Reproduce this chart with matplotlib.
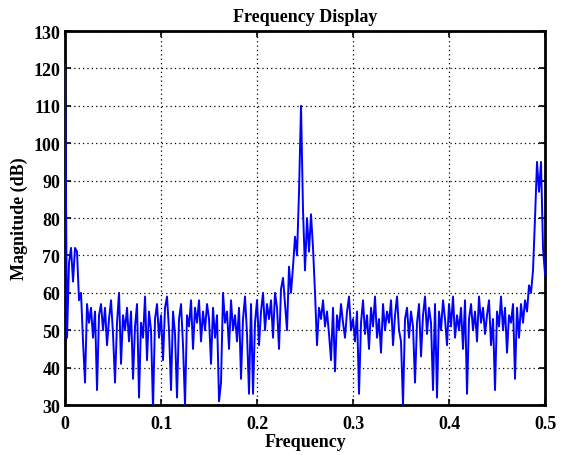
import numpy as np
import matplotlib.pyplot as plt

# magnitude in dB (one point every ~0.00208)
mag_db = [
    121, 48, 68, 72, 63, 72, 71, 58, 60, 47, 36, 57, 52, 56, 48, 55, 34, 54, 57, 50,
    56, 46, 53, 58, 49, 36, 52, 60, 41, 54, 50, 56, 47, 55, 37, 51, 57, 32, 52, 48,
    59, 42, 55, 50, 29, 53, 57, 48, 54, 42, 56, 59, 50, 34, 55, 49, 32, 53, 57, 46,
    30, 54, 51, 58, 45, 56, 52, 58, 47, 55, 50, 57, 53, 41, 56, 48, 54, 31, 36, 60,
    52, 55, 45, 58, 50, 54, 47, 56, 37, 53, 59, 49, 33, 57, 33, 52, 58, 46, 55, 60,
    50, 57, 53, 58, 48, 60, 56, 45, 61, 64, 57, 50, 67, 60, 67, 75, 70, 87, 110, 82,
    66, 80, 71, 81, 72, 60, 46, 56, 53, 58, 51, 55, 49, 42, 56, 39, 54, 50, 57, 52,
    48, 55, 59, 50, 53, 47, 55, 33, 52, 58, 49, 54, 45, 56, 51, 59, 48, 53, 44, 57,
    50, 55, 52, 58, 46, 54, 59, 50, 47, 30, 53, 56, 48, 55, 51, 36, 52, 57, 43, 54,
    59, 49, 56, 52, 34, 57, 32, 55, 50, 58, 53, 46, 57, 51, 59, 48, 54, 50, 56, 45,
    58, 33, 53, 57, 50, 55, 47, 59, 52, 56, 49, 54, 58, 46, 53, 34, 55, 51, 59, 50,
    56, 44, 54, 52, 57, 37, 56, 48, 57, 52, 58, 55, 62, 60, 66, 80, 95, 87, 95, 72,
    65,
]
freq = np.linspace(0, 0.5, len(mag_db))

xticks = [0, 0.1, 0.2, 0.3, 0.4, 0.5]
xticklabels = ['0', '0.1', '0.2', '0.3', '0.4', '0.5']
yticks = list(range(30, 131, 10))

plt.rcParams['font.family'] = ['Liberation Serif', 'DejaVu Serif']
plt.rcParams['font.weight'] = 'bold'

fig = plt.figure(figsize=(5.61, 4.56), dpi=100)
ax = fig.add_axes([0.1159, 0.1096, 0.8556, 0.8202])

ax.plot(freq, mag_db, color='#0000ff', linewidth=1.4, zorder=3)

ax.set_xlim(0, 0.5)
ax.set_ylim(30, 130)
ax.set_xticks(xticks)
ax.set_xticklabels(xticklabels)
ax.set_yticks(yticks)
ax.grid(True, color='black', linestyle=(0, (1, 2.5)), linewidth=0.9)
ax.tick_params(direction='in', top=True, right=True, length=4, width=1.2,
               labelsize=13)
ax.tick_params(axis='x', pad=7)
for s in ax.spines.values():
    s.set_linewidth(2)
    s.set_zorder(2.5)

ax.set_title('Frequency Display', fontsize=13, fontweight='bold', pad=7)
ax.set_xlabel('Frequency', fontsize=13, fontweight='bold', labelpad=1)
ax.set_ylabel('Magnitude (dB)', fontsize=13, fontweight='bold', labelpad=4)

fig.savefig('out.png', dpi=100)
